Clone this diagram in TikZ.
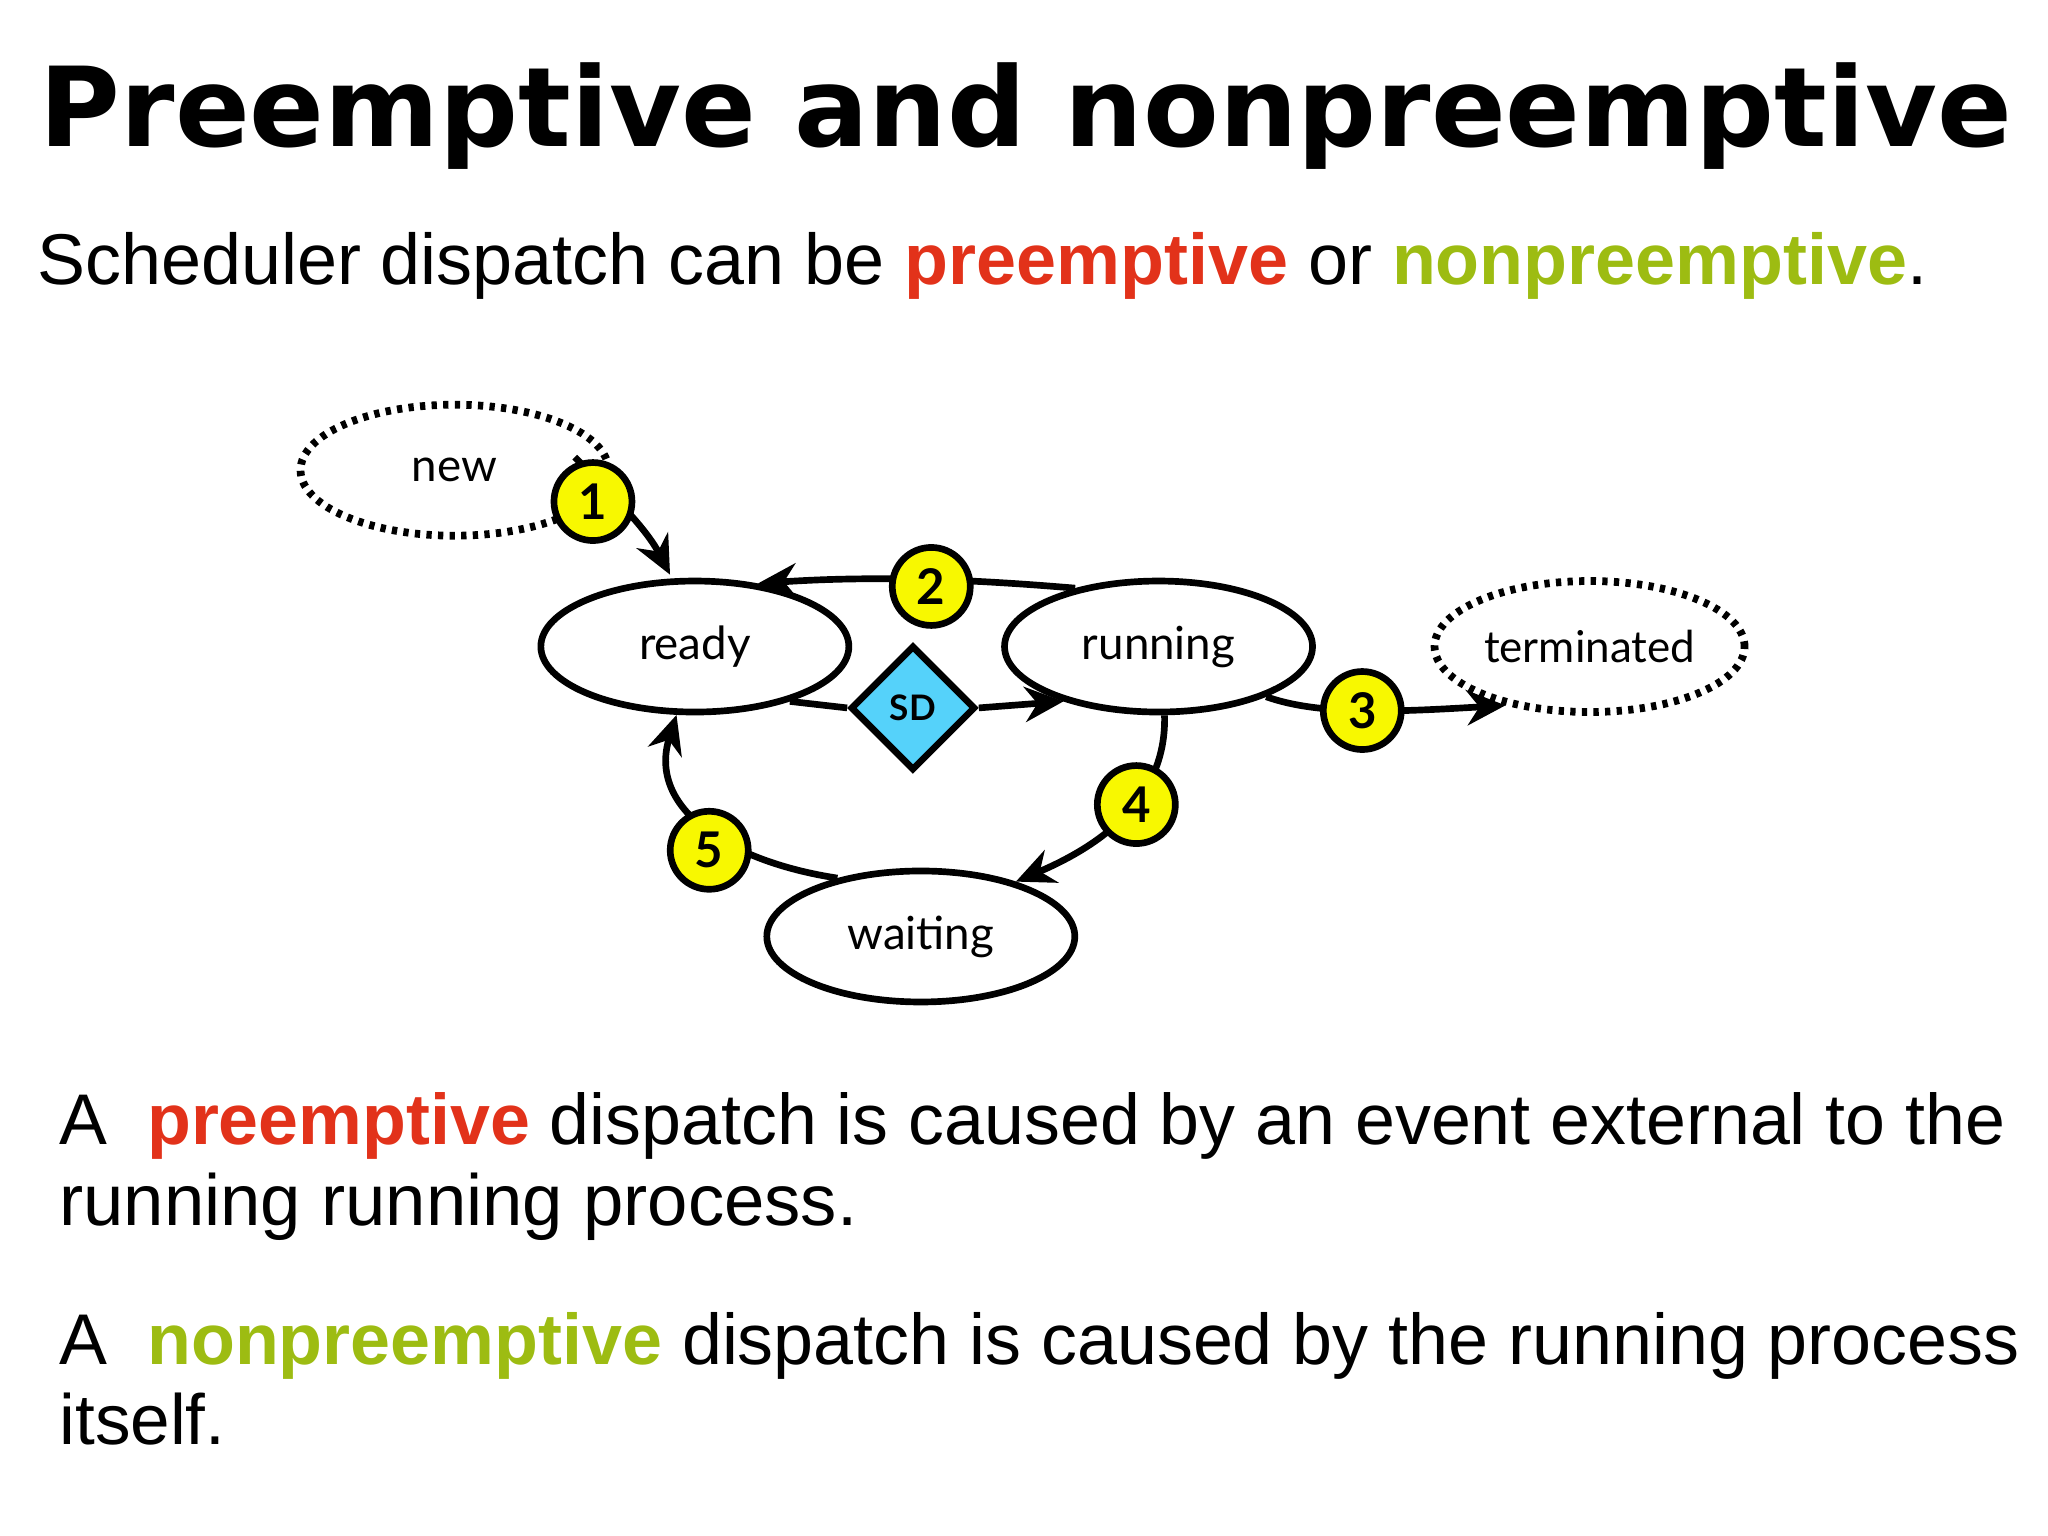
\documentclass[tikz,border=0pt]{standalone}
\usepackage{fontspec}
\setmainfont{Liberation Sans}
\newfontfamily\lbl{Lato}
\newfontfamily\ttl{DejaVu Sans}
\usetikzlibrary{shapes.geometric,arrows.meta}
\definecolor{pred}{HTML}{E2321A}
\definecolor{pgreen}{HTML}{9DBC12}
\definecolor{sdblue}{HTML}{55D2FA}
\definecolor{ylw}{HTML}{F8F800}
\begin{document}
\begin{tikzpicture}[x=0.01306cm,y=-0.01306cm,
  st/.style={ellipse,draw,line width=1.9pt,minimum width=3.08cm,minimum height=1.31cm,inner sep=0pt,font=\lbl\fontsize{13}{15}\selectfont,fill=white},
  dst/.style={st,dash pattern=on 1.5pt off 1.8pt,line width=2.2pt},
  num/.style={circle,draw,line width=1.9pt,fill=ylw,minimum size=0.78cm,inner sep=0pt,font=\lbl\bfseries\fontsize{14}{16}\selectfont},
  conn/.style={line width=1.9pt,-{Stealth[length=11pt,width=10pt]}},
  plain/.style={line width=1.9pt},
  txt/.style={anchor=base west,inner sep=0pt}]
\useasboundingbox (0,0) rectangle (1568,1176);
\node[txt] (title) at (30,112) {\resizebox{19.72cm}{!}{\ttl\bfseries Preemptive and nonpreemptive}};
\node[txt] (sub) at (28,218) {\resizebox{18.9cm}{!}{Scheduler dispatch can be \textcolor{pred}{\bfseries preemptive} or \textcolor{pgreen}{\bfseries nonpreemptive}.}};
\node[txt] (l1) at (45,876) {\resizebox{19.46cm}{!}{A\ \ \textcolor{pred}{\bfseries preemptive} dispatch is caused by an event external to the}};
\node[txt] (l2) at (45,938) {\resizebox{7.98cm}{!}{running running process.}};
\node[txt] (l3) at (45,1045) {\resizebox{19.6cm}{!}{A\ \ \textcolor{pgreen}{\bfseries nonpreemptive} dispatch is caused by the running process}};
\node[txt] (l4) at (45,1106) {\resizebox{1.66cm}{!}{itself.}};

\node[dst] (new) at (348,360) {new};
\node[st] (ready) at (532,495) {ready};
\node[st] (running) at (887,495) {running};
\node[dst,minimum width=3.1cm,font=\lbl\fontsize{12.5}{15}\selectfont] (term) at (1217,495) {terminated};
\node[st] (wait) at (705,717) {waiting};

\coordinate (r1) at (513,440);
\draw[conn] (440,350) .. controls (470,380) and (495,405) .. (r1);
\node[num] (n1) at (454,384) {1};

\draw[conn] (running.145) .. controls (760,445) and (680,440) .. (ready.45);
\node[num] (n2) at (713,449) {2};

\node[diamond,draw,line width=1.9pt,fill=sdblue,minimum width=1.25cm,minimum height=1.25cm,inner sep=0pt,font=\lbl\bfseries\fontsize{10}{12}\selectfont] (sd) at (699,542) {SD};
\draw[plain] (ready.-30) -- (sd.west);
\draw[conn] (sd.east) -- (running.-150);

\draw[conn] (running.-25) .. controls (1010,548) and (1070,545) .. (term.-145);
\node[num] (n3) at (1043,544) {3};

\draw[conn] (running.-85) .. controls (893,600) and (860,640) .. (wait.30);
\node[num] (n4) at (870,616) {4};

\draw[conn] (wait.145) .. controls (560,660) and (495,620) .. (ready.-105);
\node[num] (n5) at (543,651) {5};
\end{tikzpicture}
\end{document}
